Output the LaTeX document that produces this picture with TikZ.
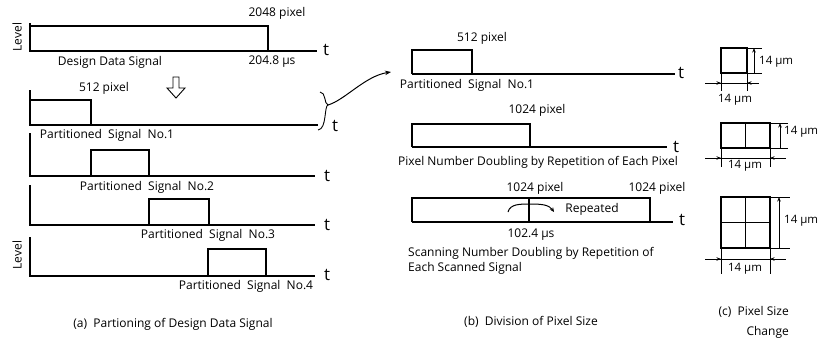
\documentclass[tikz,border=0pt]{standalone}
\usepackage{fontspec}
\setmainfont{Open Sans}
\usetikzlibrary{arrows.meta}
\begin{document}
\begin{tikzpicture}[
  x=1pt, y=-1pt,
  font=\fontsize{12}{14}\selectfont,
  sig/.style={line width=1.4pt},
  lbl/.style={inner sep=0pt},
  tlbl/.style={inner sep=0pt, font=\fontsize{17}{17}\selectfont},
  dimtxt/.style={inner sep=0pt, font=\fontsize{11.5}{12}\selectfont},
  pix/.style={draw, line width=1.1pt, inner sep=0pt},
  dimline/.style={line width=0.7pt},
  dimarr/.style={line width=0.7pt, -{Stealth[length=4.5pt,width=3.5pt]}},
  arr/.style={line width=1pt, -{Stealth[length=6pt,width=4.5pt]}}
]
  \useasboundingbox (0,0) rectangle (819,341);
  % (a) design data signal
  \draw[sig] (30,23) -- (30,51) -- (317,51);
  \draw[sig] (30,26) -- (268,26) -- (268,51);
  \node[lbl, rotate=90] (lev1) at (17,37) {Level};
  \node[lbl] (px2048) at (277,13) {2048 pixel};
  \node[lbl] (dds) at (110,62) {Design Data Signal};
  \node[lbl] (us204) at (272,62) {204.8 µs};
  \node[tlbl] (t0) at (326,50) {t};
  % hohler pfeil
  \draw[line width=0.9pt] (173,77) -- (179,77) -- (179,88) -- (185,88) -- (176,98) -- (167,88) -- (173,88) -- cycle;
  % partitioned signals
  \draw[sig] (30,90) -- (30,125) -- (318,125);
  \draw[sig] (30,100) -- (91,100) -- (91,125);
  \node[lbl] (px512a) at (104,88) {512 pixel};
  \node[lbl] (ps1) at (107,135) {Partitioned~ Signal~ No.1};
  \node[tlbl] (t1) at (335,126) {t};
  \draw[line width=0.9pt] (320,92) .. controls (326,92) and (324,104) .. (328,105) .. controls (324,106) and (327,129) .. (318,130);
  \coordinate (brtip) at (328,105);
  \draw[sig] (30,133) -- (30,176) -- (315,176);
  \draw[sig] (91,176) -- (91,150) -- (149,150) -- (149,176);
  \node[lbl] (ps2) at (147,187) {Partitioned~ Signal~ No.2};
  \node[tlbl] (t2) at (327,176) {t};
  \draw[sig] (30,185) -- (30,225) -- (315,225);
  \draw[sig] (149,225) -- (149,199) -- (209,199) -- (209,225);
  \node[lbl] (ps3) at (208,235) {Partitioned~ Signal~ No.3};
  \node[tlbl] (t3) at (327,225) {t};
  \draw[sig] (30,237) -- (30,276) -- (315,276);
  \draw[sig] (208,276) -- (208,249) -- (266,249) -- (266,276);
  \node[lbl, rotate=90] (lev2) at (17,255) {Level};
  \node[lbl] (ps4) at (246,286) {Partitioned~ Signal~ No.4};
  \node[tlbl] (t4) at (327,275) {t};
  \node[lbl] (capa) at (173,324) {(a)~ Partioning of Design Data Signal};
  % (b) division of pixel size
  \draw[sig] (412,74) -- (412,50) -- (472,50) -- (472,74);
  \draw[sig] (412,74) -- (675,74);
  \coordinate (pb1) at (391,72);
  \draw[arr] (brtip) .. controls (345,100) and (365,76) .. (pb1);
  \node[lbl] (px512b) at (482,38) {512 pixel};
  \node[lbl] (pb1lbl) at (467,85) {Partitioned~ Signal~ No.1};
  \node[tlbl] (t5) at (681,73) {t};
  \draw[sig] (412,147) -- (412,124) -- (530,124) -- (530,147);
  \draw[sig] (412,147) -- (667,147);
  \node[lbl] (px1024a) at (537,110) {1024 pixel};
  \node[lbl] (pndbl) at (538,162) {Pixel Number Doubling by Repetition of Each Pixel};
  \node[tlbl] (t6) at (676,147) {t};
  \draw[sig] (412,222) -- (412,198) -- (650,198) -- (650,222);
  \draw[sig] (529,198) -- (529,222);
  \draw[sig] (412,222) -- (673,222);
  \node[lbl] (px1024b) at (535,188) {1024 pixel};
  \node[lbl] (px1024c) at (657,188) {1024 pixel};
  \coordinate (rep0) at (508,212);
  \coordinate (rep1) at (554,212);
  \draw[line width=1pt, -{Stealth[length=4.5pt,width=4pt]}] (rep0) .. controls (510,204) and (520,204) .. (530,204) .. controls (543,204) and (549,205) .. (rep1);
  \node[lbl] (rep) at (592,209) {Repeated};
  \node[tlbl] (t7) at (682,220) {t};
  \node[lbl] (us102) at (531,235) {102.4 µs};
  \node[lbl, anchor=west, align=left, font=\fontsize{12}{15}\selectfont] (sndbl) at (408,261) {Scanning Number Doubling by Repetition of\\Each Scanned Signal};
  \node[lbl] (capb) at (531,322) {(b)~ Division of Pixel Size};
  % (c) pixel size change
  \node[pix, minimum width=26pt, minimum height=25pt] (pxa) at (734,60.5) {};
  \node[pix, minimum width=49pt, minimum height=25pt] (pxb) at (745.5,135.5) {};
  \draw[line width=1.1pt] (pxb.north) -- (pxb.south);
  \node[pix, minimum width=49pt, minimum height=51pt] (pxc) at (745.5,222.5) {};
  \draw[line width=1.1pt] (pxc.north) -- (pxc.south) (pxc.west) -- (pxc.east);
  % masse
  \draw[dimline] (747,48) -- (762,48) (747,73) -- (762,73) (721,73) -- (721,91) (747,73) -- (747,91) (705,83) -- (759,83);
  \draw[dimarr, {Stealth[length=4.5pt,width=3.5pt]}-] (754,48) -- (754,73);
  \draw[dimarr] (708,83) -- (721,83);
  \draw[dimarr] (758,83) -- (747,83);
  \node[dimtxt, anchor=west] (dav) at (759,62) {14 µm};
  \node[dimtxt] (dah) at (735,100) {14 µm};
  \draw[dimline] (770,123) -- (788,123) (770,148) -- (788,148) (721,148) -- (721,167) (770,148) -- (770,167) (705,158) -- (786,158);
  \draw[dimarr, {Stealth[length=4.5pt,width=3.5pt]}-] (780,123) -- (780,148);
  \draw[dimarr] (708,158) -- (721,158);
  \draw[dimarr] (784,158) -- (770,158);
  \node[dimtxt, anchor=west] (dbv) at (784,132) {14 µm};
  \node[dimtxt] (dbh) at (745,166) {14 µm};
  \draw[dimline] (770,197) -- (790,197) (770,248) -- (790,248) (721,248) -- (721,274) (770,248) -- (770,274) (705,259) -- (786,259);
  \draw[dimarr, {Stealth[length=4.5pt,width=3.5pt]}-] (779,197) -- (779,248);
  \draw[dimarr] (708,259) -- (721,259);
  \draw[dimarr] (784,259) -- (770,259);
  \node[dimtxt, anchor=west] (dcv) at (784,221) {14 µm};
  \node[dimtxt] (dch) at (745,269) {14 µm};
  \node[lbl, anchor=east, align=right, font=\fontsize{12}{20}\selectfont] (capc) at (789,322) {(c)~ Pixel Size\\Change};
\end{tikzpicture}
\end{document}
